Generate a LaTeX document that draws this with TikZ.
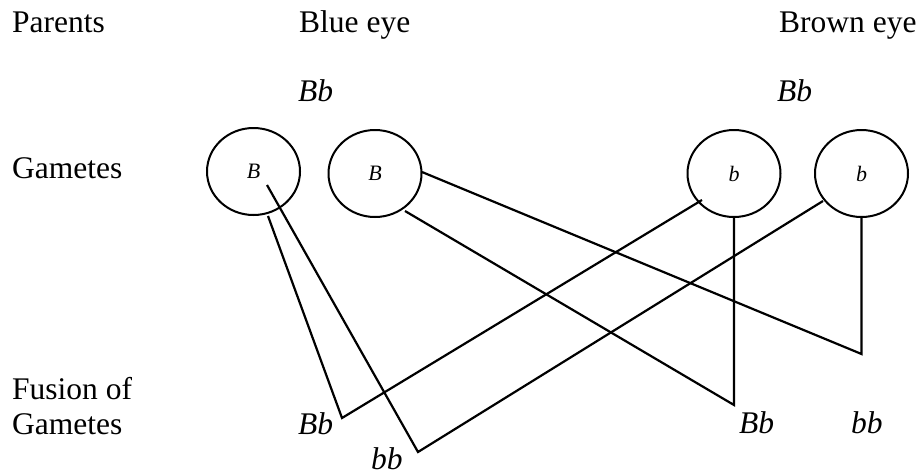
\documentclass[tikz,border=0pt]{standalone}
\usepackage{fontspec}
\setmainfont{Liberation Serif}
\usetikzlibrary{shapes.geometric}
\begin{document}
\begin{tikzpicture}[x=1pt,y=-1pt,
  lbl/.style={anchor=base west,inner sep=0pt,font=\fontsize{31.5}{35}\selectfont},
  geno/.style={anchor=base west,inner sep=0pt,font=\fontsize{31.5}{35}\selectfont\itshape},
  gamete/.style={draw,line width=2pt,ellipse,minimum width=93pt,minimum height=87pt,inner sep=0pt,font=\fontsize{22}{24}\selectfont\itshape},
  link/.style={line width=2.2pt,line join=miter}]
\useasboundingbox (0,0) rectangle (919,474);
% row labels
\node[lbl] (parents) at (12,32) {Parents};
\node[lbl] (gametes) at (12,178) {Gametes};
\node[lbl] (fusion1) at (12,399) {Fusion of};
\node[lbl] (fusion2) at (12,434) {Gametes};
% parents
\node[lbl] (blue) at (299,32) {Blue eye};
\node[lbl] (brown) at (779,32) {Brown eye};
\node[geno] (pblue) at (298,101) {Bb};
\node[geno] (pbrown) at (777,101) {Bb};
% gametes
\node[gamete] (g1) at (253.5,171.5) {B};
\node[gamete] (g2) at (375,173.5) {B};
\node[gamete] (g3) at (734,173.5) {b};
\node[gamete] (g4) at (861.5,173.5) {b};
% offspring
\node[geno] (o1) at (298,434) {Bb};
\node[geno] (o2) at (371,469) {bb};
\node[geno] (o3) at (739,433) {Bb};
\node[geno] (o4) at (851,433) {bb};
% junction points
\coordinate (v1) at (342,418);
\coordinate (v2) at (418,452);
\coordinate (v3) at (734,405);
\coordinate (v4) at (861.5,354);
% start points
\coordinate (s1a) at (268,216);
\coordinate (s1b) at (267,185);
\coordinate (s2a) at (422,172);
\coordinate (s2b) at (405,211);
\coordinate (s3a) at (702,200);
\coordinate (s4a) at (823,201);
% connectors
\draw[link] (s1a) -- (v1) -- (s3a);
\draw[link] (s1b) -- (v2) -- (s4a);
\draw[link] (s2b) -- (v3) -- (g3.south);
\draw[link] (s2a) -- (v4) -- (g4.south);
\end{tikzpicture}
\end{document}
